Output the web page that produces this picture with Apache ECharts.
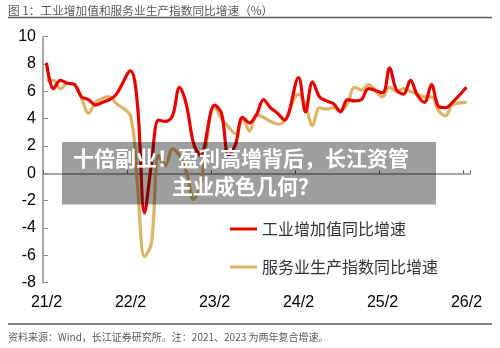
<!DOCTYPE html>
<html>
<head>
<meta charset="utf-8">
<script src="https://cdn.jsdelivr.net/npm/echarts@6/dist/echarts.min.js"></script>
<style>
html,body{margin:0;padding:0;background:#fff;}
#chart{width:500px;height:348px;}
</style>
</head>
<body>
<div id="chart"></div>
<script>
// Monthly periods (January not published: Jan-Feb combined into Feb)
const periods = ['21/2','21/3','21/4','21/5','21/6','21/7','21/8','21/9','21/10','21/11','21/12',
  '22/1','22/2','22/3','22/4','22/5','22/6','22/7','22/8','22/9','22/10','22/11','22/12',
  '23/1','23/2','23/3','23/4','23/5','23/6','23/7','23/8','23/9','23/10','23/11','23/12',
  '24/1','24/2','24/3','24/4','24/5','24/6','24/7','24/8','24/9','24/10','24/11','24/12',
  '25/1','25/2','25/3','25/4','25/5','25/6','25/7','25/8','25/9','25/10','25/11','25/12',
  '26/1','26/2'];

const industrialYoY = [8.1,6.2,6.8,6.6,6.5,5.6,5.4,5.0,5.2,5.4,5.8,
  null,7.5,5.0,-2.9,0.7,3.9,3.8,4.2,6.3,5.0,2.2,1.3,
  null,5.0,4.4,1.3,2.1,4.1,3.7,4.3,5.4,4.8,4.4,3.9,
  null,7.0,4.5,6.7,5.6,5.3,5.1,4.5,5.4,5.3,5.4,6.2,
  null,5.9,7.7,6.1,5.8,6.8,5.7,5.2,6.5,4.9,4.8,5.2,
  null,6.3];

const servicesYoY = [6.8,6.8,6.2,6.6,6.5,5.5,4.4,5.2,5.5,5.6,5.1,
  null,4.2,-0.9,-6.1,-5.1,1.3,0.6,1.8,1.3,0.1,-1.9,-0.8,
  null,4.9,4.0,3.4,2.9,4.0,3.1,4.3,4.1,3.8,3.6,3.8,
  null,5.8,5.0,3.5,4.8,4.7,4.8,4.6,5.1,6.3,6.1,6.5,
  null,5.6,6.3,6.0,6.2,6.0,5.8,5.6,5.6,4.6,4.2,5.0,
  null,5.2];

const yearLabels = ['21/2','22/2','23/2','24/2','25/2','26/2'];
const seriesNames = ['工业增加值同比增速','服务业生产指数同比增速'];
const titleText = '图 1：工业增加值和服务业生产指数同比增速（%）';
const sourceText = '资料来源：Wind，长江证券研究所。注：2021、2023 为两年复合增速。';
const overlayLines = ['十倍副业！盈利高增背后，长江资管','主业成色几何？'];

const latin = '"Liberation Sans", Arial, "Noto Sans CJK SC", sans-serif';
const cjk = '"Noto Sans CJK SC", "Liberation Sans", sans-serif';
const axisGray = '#8c8c8c';

const chart = echarts.init(document.getElementById('chart'), null, {renderer:'canvas'});
const isYearTick = (i) => yearLabels.indexOf(periods[i]) !== -1;

chart.setOption({
  animation: false,
  backgroundColor: '#fff',
  grid: {left: 43, right: 30, top: 36.7, bottom: 65.3, containLabel: false},
  legend: {
    orient: 'vertical',
    left: 225, top: 214,
    itemWidth: 27, itemHeight: 3, itemGap: 18,
    icon: 'rect',
    data: seriesNames,
    textStyle: {fontSize: 16, color: '#333', fontFamily: cjk, lineHeight: 20}
  },
  xAxis: [{
    type: 'category', data: periods, boundaryGap: true,
    axisLine: {show: false, onZero: false},
    axisTick: {show: false},
    axisLabel: {interval: (i) => isYearTick(i), fontSize: 16, color: '#000', fontFamily: latin, margin: 12}
  }, {
    type: 'category', data: periods, boundaryGap: true, position: 'bottom',
    axisLine: {show: true, onZero: true, lineStyle: {color: axisGray, width: 1.5}},
    axisTick: {show: true, inside: true, length: 3, interval: (i) => isYearTick(i), lineStyle: {color: '#555', width: 1}},
    axisLabel: {show: false}
  }],
  yAxis: {
    type: 'value', min: -8, max: 10, interval: 2,
    splitLine: {show: false},
    axisLine: {show: true, lineStyle: {color: axisGray, width: 1.5}},
    axisTick: {show: true, inside: true, length: 5, lineStyle: {color: axisGray, width: 1}},
    axisLabel: {fontSize: 16, color: '#000', fontFamily: latin, margin: 7}
  },
  series: [{
    name: seriesNames[0], type: 'line', data: industrialYoY, xAxisIndex: 0,
    connectNulls: true, smooth: 0.35, showSymbol: false, symbol: 'none',
    lineStyle: {color: '#e60000', width: 3.2}, itemStyle: {color: '#e60000'}, z: 3
  }, {
    name: seriesNames[1], type: 'line', data: servicesYoY, xAxisIndex: 0,
    connectNulls: true, smooth: 0.35, showSymbol: false, symbol: 'none',
    lineStyle: {color: '#ddb366', width: 3.2}, itemStyle: {color: '#ddb366'}, z: 2
  }],
  graphic: [
    {type: 'text', left: 8, top: 4.5, z: 10,
     style: {text: titleText, fontSize: 11.7, fill: '#595959', fontFamily: cjk}},
    {type: 'line', z: 10, shape: {x1: 8, y1: 17.5, x2: 492, y2: 17.5},
     style: {stroke: '#595959', lineWidth: 1.5}},
    {type: 'line', z: 10, shape: {x1: 8, y1: 324, x2: 492, y2: 324},
     style: {stroke: '#595959', lineWidth: 1.5}},
    {type: 'text', left: 8, top: 332, z: 10,
     style: {text: sourceText, fontSize: 10, fill: '#595959', fontFamily: cjk}},
    {type: 'rect', z: 100, shape: {x: 62, y: 142, width: 374, height: 62.5},
     style: {fill: 'rgba(0,0,0,0.38)'}},
    {type: 'text', z: 101, x: 73, y: 158,
     style: {text: overlayLines[0], fontSize: 21, fontWeight: 'bold', fill: '#fff', fontFamily: cjk, textVerticalAlign: 'middle', verticalAlign: 'middle'}},
    {type: 'text', z: 101, x: 172, y: 186,
     style: {text: overlayLines[1], fontSize: 21, fontWeight: 'bold', fill: '#fff', fontFamily: cjk, textVerticalAlign: 'middle', verticalAlign: 'middle'}}
  ]
});
</script>
</body>
</html>
